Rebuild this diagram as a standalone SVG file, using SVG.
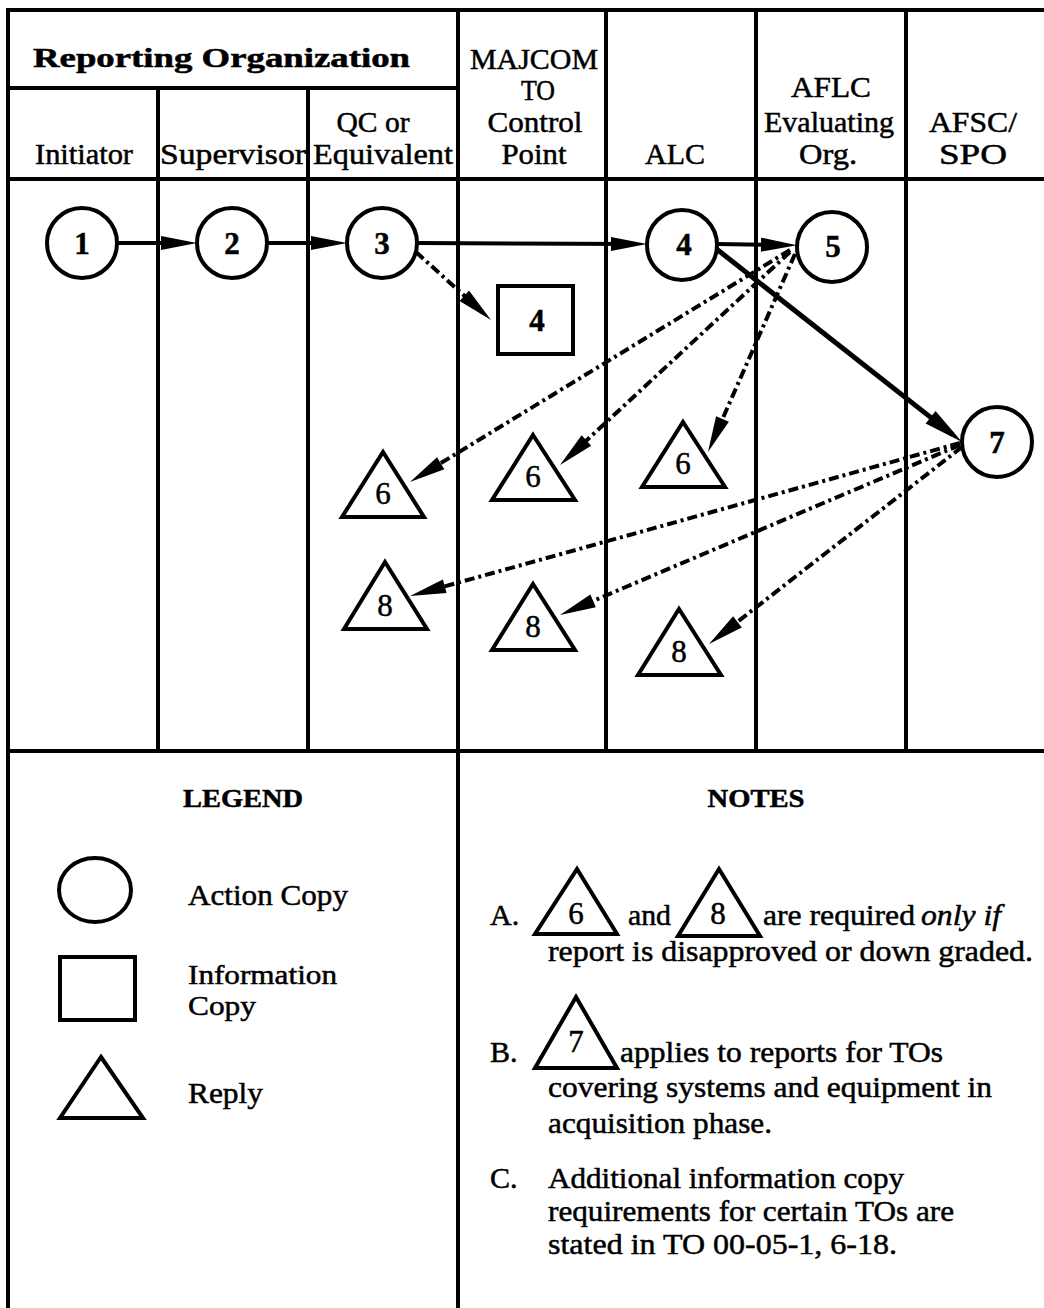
<svg xmlns="http://www.w3.org/2000/svg" width="1044" height="1308" viewBox="0 0 1044 1308">
<style>
.frame{stroke:#000;stroke-width:4;fill:none;stroke-linecap:square}
.shape{fill:#fff;stroke:#000;stroke-width:4;stroke-linejoin:miter}
.conn{stroke:#000;stroke-width:4;fill:none}
.dash{stroke-dasharray:10 4 3 4}
.thick{stroke-width:5}
text{font-family:"Liberation Serif","Times New Roman",serif;fill:#000;stroke:#000;stroke-width:0.5}
.hd{font-size:29px;text-anchor:middle}
.title{font-size:28px;font-weight:bold}
.sec{font-size:26px;font-weight:bold;text-anchor:middle}
.num{font-size:31px;font-weight:bold;text-anchor:middle}
.tnum{font-size:31px;text-anchor:middle}
.body{font-size:30px}
.lg2{font-size:28px}
</style>
<defs>
<marker id="ah" markerUnits="userSpaceOnUse" markerWidth="36" markerHeight="14" refX="24" refY="7" orient="auto" overflow="visible"><path d="M0,0 L36,7 L0,14 Z" fill="#000"/></marker>
<marker id="ahL" markerUnits="userSpaceOnUse" markerWidth="40" markerHeight="16" refX="28" refY="8" orient="auto" overflow="visible"><path d="M0,0 L40,8 L0,16 Z" fill="#000"/></marker>
</defs>
<rect width="1044" height="1308" fill="#fff"/>

<g id="frame" class="frame">
<line x1="8" y1="10" x2="1044" y2="10"/>
<line x1="8" y1="88" x2="458" y2="88"/>
<line x1="8" y1="179" x2="1044" y2="179"/>
<line x1="8" y1="751" x2="1044" y2="751"/>
<line x1="8" y1="10" x2="8" y2="1308"/>
<line x1="458" y1="10" x2="458" y2="1308"/>
<line x1="158" y1="88" x2="158" y2="751"/>
<line x1="308" y1="88" x2="308" y2="751"/>
<line x1="606" y1="10" x2="606" y2="751"/>
<line x1="756" y1="10" x2="756" y2="751"/>
<line x1="906" y1="10" x2="906" y2="751"/>
</g>

<g id="headers">
<text class="title" x="33" y="67" textLength="377" lengthAdjust="spacingAndGlyphs">Reporting Organization</text>
<text class="hd" x="84" y="164" textLength="98" lengthAdjust="spacingAndGlyphs">Initiator</text>
<text class="hd" x="233" y="164" textLength="146" lengthAdjust="spacingAndGlyphs">Supervisor</text>
<text class="hd" x="373" y="132" textLength="73" lengthAdjust="spacingAndGlyphs">QC or</text>
<text class="hd" x="383" y="164" textLength="140" lengthAdjust="spacingAndGlyphs">Equivalent</text>
<text class="hd" x="534" y="69" textLength="128" lengthAdjust="spacingAndGlyphs">MAJCOM</text>
<text class="hd" x="538" y="100" textLength="34" lengthAdjust="spacingAndGlyphs">TO</text>
<text class="hd" x="535" y="132" textLength="95" lengthAdjust="spacingAndGlyphs">Control</text>
<text class="hd" x="534" y="164" textLength="65" lengthAdjust="spacingAndGlyphs">Point</text>
<text class="hd" x="675" y="164" textLength="60" lengthAdjust="spacingAndGlyphs">ALC</text>
<text class="hd" x="831" y="97" textLength="80" lengthAdjust="spacingAndGlyphs">AFLC</text>
<text class="hd" x="829" y="132" textLength="130" lengthAdjust="spacingAndGlyphs">Evaluating</text>
<text class="hd" x="828" y="164" textLength="58" lengthAdjust="spacingAndGlyphs">Org.</text>
<text class="hd" x="973" y="132" textLength="88" lengthAdjust="spacingAndGlyphs">AFSC/</text>
<text class="hd" x="973" y="164" textLength="68" lengthAdjust="spacingAndGlyphs">SPO</text>
</g>

<g id="connectors">
<line class="conn" x1="117" y1="243" x2="185" y2="243" marker-end="url(#ah)"/>
<line class="conn" x1="267" y1="243" x2="335" y2="243" marker-end="url(#ah)"/>
<line class="conn" x1="417" y1="243" x2="635" y2="244" marker-end="url(#ah)"/>
<line class="conn" x1="717" y1="244" x2="785" y2="245" marker-end="url(#ah)"/>
<line class="conn thick" x1="714" y1="247" x2="952.6" y2="434.6" marker-end="url(#ahL)"/>
<line class="conn dash" x1="416" y1="252" x2="482.1" y2="311.9" marker-end="url(#ah)"/>
<line class="conn dash" x1="790" y1="250" x2="420.2" y2="475.7" marker-end="url(#ah)"/>
<line class="conn dash" x1="790" y1="252" x2="568.8" y2="456.8" marker-end="url(#ah)"/>
<line class="conn dash" x1="795" y1="254" x2="712.8" y2="441.0" marker-end="url(#ah)"/>
<line class="conn dash" x1="960" y1="443" x2="421.6" y2="592.8" marker-end="url(#ah)"/>
<line class="conn dash" x1="960" y1="445" x2="571.0" y2="610.3" marker-end="url(#ah)"/>
<line class="conn dash" x1="962" y1="447" x2="718.5" y2="636.6" marker-end="url(#ah)"/>
</g>

<g id="node-1"><circle class="shape" cx="82" cy="243" r="35"/><text class="num" x="82" y="254">1</text></g>
<g id="node-2"><circle class="shape" cx="232" cy="243" r="35"/><text class="num" x="232" y="254">2</text></g>
<g id="node-3"><circle class="shape" cx="382" cy="243" r="35"/><text class="num" x="382" y="254">3</text></g>
<g id="node-4"><circle class="shape" cx="682" cy="245" r="35"/><text class="num" x="684" y="255">4</text></g>
<g id="node-5"><circle class="shape" cx="832" cy="247" r="35"/><text class="num" x="833" y="257">5</text></g>
<g id="node-7"><circle class="shape" cx="997" cy="442" r="35"/><text class="num" x="997" y="453">7</text></g>
<g id="node-4-info"><rect class="shape" x="498" y="286" width="75" height="68"/><text class="num" x="537" y="331">4</text></g>

<g id="node-6a"><polygon class="shape" points="383,452 424,517 342,517"/><text class="tnum" x="383" y="504">6</text></g>
<g id="node-6b"><polygon class="shape" points="533,435 575,500 492,500"/><text class="tnum" x="533" y="487">6</text></g>
<g id="node-6c"><polygon class="shape" points="683,422 725,487 642,487"/><text class="tnum" x="683" y="474">6</text></g>
<g id="node-8a"><polygon class="shape" points="385,562 427,629 344,629"/><text class="tnum" x="385" y="616">8</text></g>
<g id="node-8b"><polygon class="shape" points="533,584 575,650 492,650"/><text class="tnum" x="533" y="637">8</text></g>
<g id="node-8c"><polygon class="shape" points="679,609 721,675 638,675"/><text class="tnum" x="679" y="662">8</text></g>

<g id="legend">
<text class="sec" x="243" y="807" textLength="120" lengthAdjust="spacingAndGlyphs">LEGEND</text>
<ellipse class="shape" cx="95" cy="890" rx="36" ry="32"/>
<text class="body" x="188" y="905" textLength="160" lengthAdjust="spacingAndGlyphs">Action Copy</text>
<rect class="shape" x="60" y="957" width="75" height="63"/>
<text class="body lg2" x="188" y="984" textLength="149" lengthAdjust="spacingAndGlyphs">Information</text>
<text class="body lg2" x="188" y="1015" textLength="68" lengthAdjust="spacingAndGlyphs">Copy</text>
<polygon class="shape" points="101,1057 143,1118 60,1118"/>
<text class="body" x="188" y="1103" textLength="75" lengthAdjust="spacingAndGlyphs">Reply</text>
</g>

<g id="notes">
<text class="sec" x="756" y="807" textLength="97" lengthAdjust="spacingAndGlyphs">NOTES</text>
<text class="body" x="490" y="925">A.</text>
<polygon class="shape" points="577,869 617,934 535,934"/>
<text class="tnum" x="576" y="924">6</text>
<text class="body" x="628" y="925" textLength="43" lengthAdjust="spacingAndGlyphs">and</text>
<polygon class="shape" points="719,869 760,936 678,936"/>
<text class="tnum" x="718" y="924">8</text>
<text class="body" x="763" y="925" textLength="152" lengthAdjust="spacingAndGlyphs">are required</text>
<text class="body" x="921" y="925" textLength="80" lengthAdjust="spacingAndGlyphs" font-style="italic">only if</text>
<text class="body" x="548" y="961" textLength="485" lengthAdjust="spacingAndGlyphs">report is disapproved or down graded.</text>
<text class="body" x="490" y="1062">B.</text>
<polygon class="shape" points="576,997 617,1068 535,1068"/>
<text class="tnum" x="576" y="1052">7</text>
<text class="body" x="620" y="1062" textLength="323" lengthAdjust="spacingAndGlyphs">applies to reports for TOs</text>
<text class="body" x="548" y="1097" textLength="444" lengthAdjust="spacingAndGlyphs">covering systems and equipment in</text>
<text class="body" x="548" y="1133" textLength="224" lengthAdjust="spacingAndGlyphs">acquisition phase.</text>
<text class="body" x="490" y="1188">C.</text>
<text class="body" x="548" y="1188" textLength="356" lengthAdjust="spacingAndGlyphs">Additional information copy</text>
<text class="body" x="548" y="1221" textLength="406" lengthAdjust="spacingAndGlyphs">requirements for certain TOs are</text>
<text class="body" x="548" y="1254" textLength="349" lengthAdjust="spacingAndGlyphs">stated in TO 00-05-1, 6-18.</text>
</g>
</svg>
